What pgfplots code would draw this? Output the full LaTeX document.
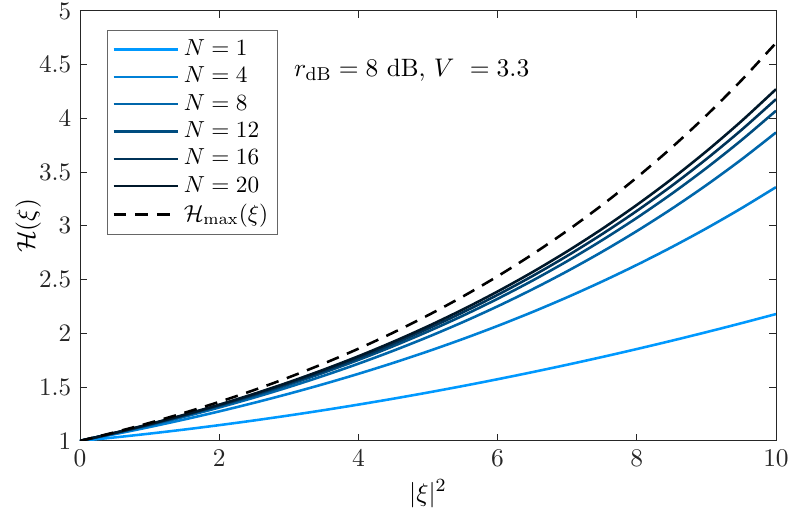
\documentclass[border=0pt]{standalone}
\usepackage{pgfplots}
\pgfplotsset{compat=1.18}
\definecolor{cA}{RGB}{0,153,255}
\definecolor{cB}{RGB}{0,128,214}
\definecolor{cC}{RGB}{0,102,170}
\definecolor{cD}{RGB}{0,77,128}
\definecolor{cE}{RGB}{0,51,88}
\definecolor{cF}{RGB}{0,24,42}
\definecolor{axgray}{RGB}{38,38,38}
\begin{document}
\fontsize{10.8}{13}\selectfont
\begin{tikzpicture}
\useasboundingbox (-34.4pt,-31.8pt) rectangle (304.9pt,189.6pt);
\begin{axis}[
  scale only axis,
  width=299.3pt, height=184.9pt,
  xmin=0, xmax=10, ymin=1, ymax=5,
  xtick={0,2,4,6,8,10},
  ytick={1,1.5,2,2.5,3,3.5,4,4.5,5},
  yticklabels={1,1.5,2,2.5,3,3.5,4,4.5,5},
  tick align=inside,
  major tick length=3pt,
  axis line style={axgray, line width=0.4pt},
  tick style={axgray, line width=0.4pt},
  ticklabel style={text=axgray},
  xlabel={$|\xi|^2$},
  ylabel={$\mathcal{H}(\xi)$},
  xlabel style={at={(axis description cs:0.5,0)}, anchor=north, yshift=-13pt},
  ylabel style={at={(axis description cs:0,0.5)}, anchor=south, yshift=13pt},
  legend style={at={(0.039,0.956)}, anchor=north west, draw=gray!80!black, line width=0.5pt,
    row sep=-0.7pt, inner xsep=2pt, inner ysep=2pt, font=\fontsize{10.2}{12}\selectfont},
  legend cell align=left,
  legend image code/.code={\draw[#1] (0cm,0cm) -- (0.97cm,0cm);},
  every axis plot/.append style={line width=1.1pt},
  clip=true,
]
\addplot[cA, smooth] coordinates {(0,1) (0.5,1.0324) (1,1.0676) (1.5,1.1056) (2,1.1464) (2.5,1.19) (3,1.2364) (3.5,1.2856) (4,1.3376) (4.5,1.3924) (5,1.45) (5.5,1.5104) (6,1.5736) (6.5,1.6396) (7,1.7084) (7.5,1.78) (8,1.8544) (8.5,1.9316) (9,2.0116) (9.5,2.0944) (10,2.18)};
\addlegendentry{$N=1$}
\addplot[cB, smooth] coordinates {(0,1) (0.5,1.0625) (1,1.1289) (1.5,1.1994) (2,1.2743) (2.5,1.3539) (3,1.4385) (3.5,1.5284) (4,1.6239) (4.5,1.7254) (5,1.8332) (5.5,1.9477) (6,2.0694) (6.5,2.1987) (7,2.3361) (7.5,2.4821) (8,2.6371) (8.5,2.8019) (9,2.9769) (9.5,3.1629) (10,3.3605)};
\addlegendentry{$N=4$}
\addplot[cC, smooth] coordinates {(0,1) (0.5,1.0700) (1,1.1449) (1.5,1.2250) (2,1.3107) (2.5,1.4024) (3,1.5007) (3.5,1.6057) (4,1.7181) (4.5,1.8383) (5,1.9670) (5.5,2.1047) (6,2.2520) (6.5,2.4096) (7,2.5782) (7.5,2.7586) (8,2.9517) (8.5,3.1583) (9,3.3794) (9.5,3.6159) (10,3.8690)};
\addlegendentry{$N=8$}
\addplot[cD, smooth] coordinates {(0,1) (0.5,1.0727) (1,1.1507) (1.5,1.2344) (2,1.3242) (2.5,1.4205) (3,1.5238) (3.5,1.6346) (4,1.7534) (4.5,1.8809) (5,2.0177) (5.5,2.1644) (6,2.3219) (6.5,2.4907) (7,2.6719) (7.5,2.8662) (8,3.0746) (8.5,3.2982) (9,3.5380) (9.5,3.7953) (10,4.0713)};
\addlegendentry{$N=12$}
\addplot[cE, smooth] coordinates {(0,1) (0.5,1.0741) (1,1.1537) (1.5,1.2392) (2,1.3311) (2.5,1.4298) (3,1.5357) (3.5,1.6495) (4,1.7718) (4.5,1.9031) (5,2.0442) (5.5,2.1957) (6,2.3584) (6.5,2.5332) (7,2.7210) (7.5,2.9227) (8,3.1393) (8.5,3.3720) (9,3.6219) (9.5,3.8904) (10,4.1787)};
\addlegendentry{$N=16$}
\addplot[cF, smooth] coordinates {(0,1) (0.5,1.0753) (1,1.1563) (1.5,1.2434) (2,1.3370) (2.5,1.4377) (3,1.5459) (3.5,1.6623) (4,1.7875) (4.5,1.9221) (5,2.0668) (5.5,2.2224) (6,2.3898) (6.5,2.5698) (7,2.7632) (7.5,2.9713) (8,3.1950) (8.5,3.4356) (9,3.6943) (9.5,3.9725) (10,4.2716)};
\addlegendentry{$N=20$}
\addplot[black, smooth, dash pattern=on 5.5pt off 3.8pt] coordinates {(0,1) (0.5,1.0805) (1,1.1674) (1.5,1.2614) (2,1.3629) (2.5,1.4726) (3,1.5911) (3.5,1.7192) (4,1.8574) (4.5,2.0069) (5,2.1685) (5.5,2.3430) (6,2.5315) (6.5,2.7352) (7,2.9554) (7.5,3.1933) (8,3.4502) (8.5,3.7279) (9,4.0279) (9.5,4.3521) (10,4.7023)};
\addlegendentry{$\mathcal{H}_{\max}(\xi)$}
\node[anchor=west, text=black] at (axis cs:2.95,4.45) {$r_{\mathrm{dB}} = 8$ dB, $V\ = 3.3$};
\end{axis}
\end{tikzpicture}
\end{document}
